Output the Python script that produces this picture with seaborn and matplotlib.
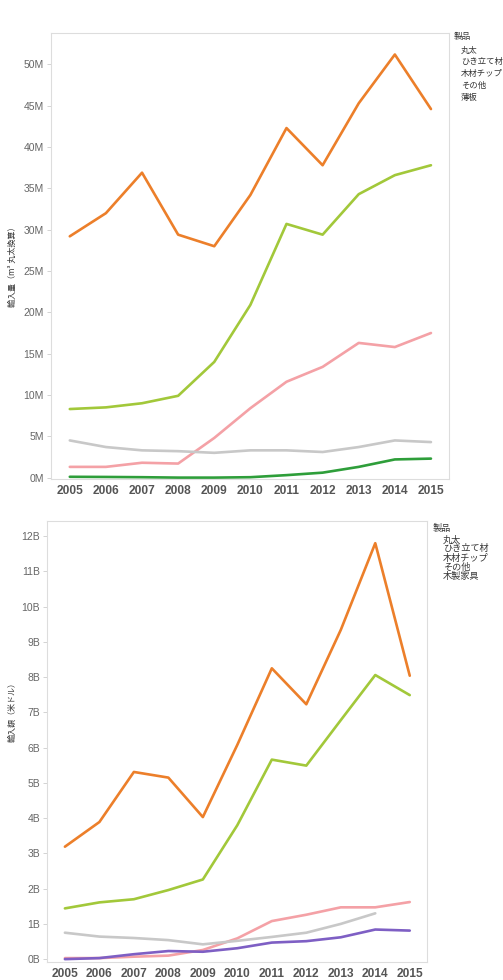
import pandas as pd
import seaborn as sns
import matplotlib.pyplot as plt
from matplotlib.ticker import FuncFormatter, MultipleLocator
import numpy as np

# Years
years = list(range(2005, 2016))

# Import volume (million m3, log equivalent)
vol_maruta = [29.2, 32.0, 36.9, 29.4, 28.0, 34.2, 42.3, 37.8, 45.3, 51.2, 44.6]
vol_hikitate = [8.3, 8.5, 9.0, 9.9, 14.0, 20.9, 30.7, 29.4, 34.3, 36.6, 37.8]
vol_chip = [1.3, 1.3, 1.8, 1.7, 4.8, 8.4, 11.6, 13.4, 16.3, 15.8, 17.5]
vol_other = [4.5, 3.7, 3.3, 3.2, 3.0, 3.3, 3.3, 3.1, 3.7, 4.5, 4.3]
vol_usuita = [0.1, 0.08, 0.05, 0.0, 0.0, 0.05, 0.3, 0.6, 1.3, 2.2, 2.3]

# Import value (billion USD)
val_maruta = [3.19, 3.89, 5.31, 5.15, 4.03, 6.08, 8.25, 7.23, 9.34, 11.8, 8.04]
val_hikitate = [1.44, 1.61, 1.70, 1.96, 2.26, 3.80, 5.66, 5.49, 6.78, 8.06, 7.49]
val_chip = [0.03, 0.03, 0.07, 0.10, 0.26, 0.59, 1.08, 1.26, 1.47, 1.47, 1.62]
val_other = [0.75, 0.64, 0.60, 0.54, 0.42, 0.52, 0.63, 0.75, 1.00, 1.30, np.nan]
val_kagu = [0.0, 0.03, 0.14, 0.23, 0.21, 0.31, 0.47, 0.51, 0.62, 0.84, 0.81]

top_products = ['丸太', 'ひき立て材', '木材チップ', 'その他', '薄板']
bottom_products = ['丸太', 'ひき立て材', '木材チップ', 'その他', '木製家具']

palette = {'丸太': '#ec7f2a', 'ひき立て材': '#a2c83a', '木材チップ': '#f4a1a6',
           'その他': '#c8c8c8', '薄板': '#2e9e3a', '木製家具': '#7e5fc4'}

def long_df(series, names):
    rows = []
    for name, vals in zip(names, series):
        for y, v in zip(years, vals):
            rows.append({'年': y, '値': v, '製品': name})
    return pd.DataFrame(rows)

df_top = long_df([vol_maruta, vol_hikitate, vol_chip, vol_other, vol_usuita], top_products)
df_bot = long_df([val_maruta, val_hikitate, val_chip, val_other, val_kagu], bottom_products)

sns.set_style('white')
plt.rcParams['font.family'] = ['Noto Sans CJK JP', 'DejaVu Sans']

fig = plt.figure(figsize=(5.03, 9.80), dpi=100)
ax1 = fig.add_axes([0.1014, 0.5112, 0.7913, 0.4551])
ax2 = fig.add_axes([0.0934, 0.0184, 0.7555, 0.4500])

sns.lineplot(data=df_top, x='年', y='値', hue='製品', palette=palette, ax=ax1,
             linewidth=1.9, legend=False)
sns.lineplot(data=df_bot, x='年', y='値', hue='製品', palette=palette, ax=ax2,
             linewidth=1.9, legend=False)

def style(ax, ylim, step, suffix):
    ax.set_xlim(2004.48, 2015.5)
    ax.set_ylim(*ylim)
    ax.xaxis.set_major_locator(MultipleLocator(1))
    ax.yaxis.set_major_locator(MultipleLocator(step))
    ax.yaxis.set_major_formatter(FuncFormatter(lambda v, p: f'{v:.0f}{suffix}'))
    ax.set_xlabel('')
    ax.set_ylabel('')
    for s in ax.spines.values():
        s.set_color('#dddddd')
        s.set_linewidth(0.8)
    ax.tick_params(axis='y', left=True, length=3, width=0.6, color='#cccccc',
                   labelsize=7.5, labelcolor='#666666', pad=2)
    ax.tick_params(axis='x', bottom=False, labelsize=8.6, labelcolor='#555555', pad=1)
    for t in ax.get_xticklabels():
        t.set_fontweight('bold')
        t.set_family(['Liberation Sans', 'DejaVu Sans'])
    for t in ax.get_yticklabels():
        t.set_family(['Liberation Sans', 'DejaVu Sans'])

style(ax1, (-0.17, 53.8), 5, 'M')
style(ax2, (-0.08, 12.43), 1, 'B')

fig.text(0.024, 1 - 265 / 980, '輸入量（m³ 丸太換算）', rotation=90, fontsize=5.8,
         ha='center', va='center', color='#333333')
fig.text(0.024, 1 - 710 / 980, '輸入額（米ドル）', rotation=90, fontsize=5.8,
         ha='center', va='center', color='#333333')

# legend-like text lists
fig.text(454 / 503, 1 - 37 / 980, '製品', fontsize=6.2, va='center', color='#333333')
for i, name in enumerate(top_products):
    fig.text(461 / 503, 1 - (50 + i * 11.8) / 980, name, fontsize=6.0,
             va='center', color='#333333')

fig.text(433 / 503, 1 - 528 / 980, '製品', fontsize=6.6, va='center', color='#333333')
for i, name in enumerate(bottom_products):
    fig.text(443 / 503, 1 - (540 + i * 9.0) / 980, name, fontsize=6.6,
             va='center', color='#333333')

fig.savefig('out.png', dpi=100)
